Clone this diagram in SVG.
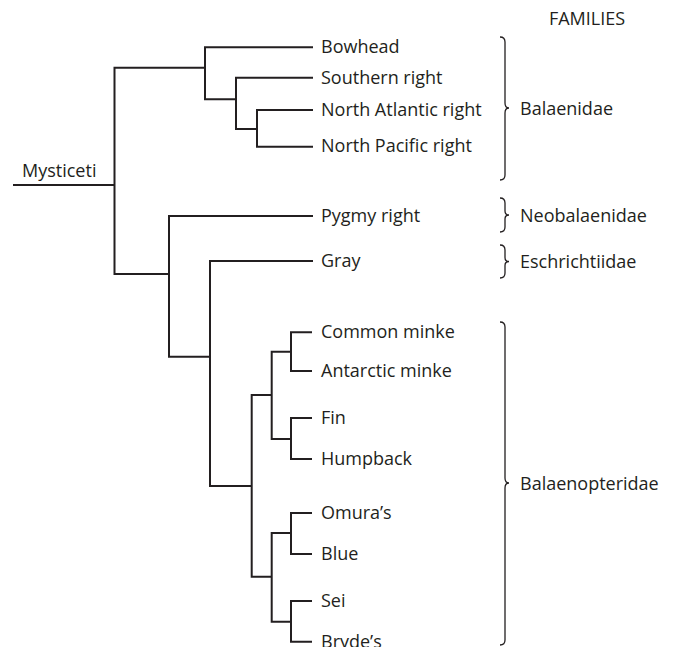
<svg xmlns="http://www.w3.org/2000/svg" width="676" height="647" viewBox="0 0 676 647">
<style>
.t{font-family:"Open Sans","Liberation Sans",sans-serif;font-size:18px;fill:#231f20}
.c{fill:none;stroke:#231f20;stroke-width:2;stroke-linejoin:miter;stroke-linecap:butt}
.b{fill:none;stroke:#231f20;stroke-width:1.3}
</style>
<rect width="676" height="647" fill="#fff"/>
<g id="connectors">
<path class="c" d="M13,185 H114.5"/>
<path class="c" d="M205,67.7 H114.5 V274 H169"/>
<path class="c" d="M313,47.3 H205 V99.3 H236"/>
<path class="c" d="M313,77.7 H236 V129 H257"/>
<path class="c" d="M313,110 H257 V146.7 H313"/>
<path class="c" d="M313,216 H169 V356.7 H210"/>
<path class="c" d="M313,261 H210 V486 H251.7"/>
<path class="c" d="M271.7,395 H251.7 V576.7 H271.7"/>
<path class="c" d="M291,351.7 H271.7 V439 H291"/>
<path class="c" d="M312,332.3 H291 V371 H312"/>
<path class="c" d="M312,418 H291 V459 H312"/>
<path class="c" d="M291,533 H271.7 V621.7 H291"/>
<path class="c" d="M312,513 H291 V554 H312"/>
<path class="c" d="M312,601 H291 V641.7 H312"/>
</g>
<g id="root"><text class="t" x="22" y="176.5">Mysticeti</text></g>
<g id="bowhead"><text class="t" x="321" y="53">Bowhead</text></g>
<g id="southern-right"><text class="t" x="321" y="83.5">Southern right</text></g>
<g id="north-atlantic-right"><text class="t" x="321" y="115.5">North Atlantic right</text></g>
<g id="north-pacific-right"><text class="t" x="321" y="152">North Pacific right</text></g>
<g id="pygmy-right"><text class="t" x="321" y="221.5">Pygmy right</text></g>
<g id="gray"><text class="t" x="321" y="266.5">Gray</text></g>
<g id="common-minke"><text class="t" x="321" y="338">Common minke</text></g>
<g id="antarctic-minke"><text class="t" x="321" y="376.5">Antarctic minke</text></g>
<g id="fin"><text class="t" x="321" y="423.5">Fin</text></g>
<g id="humpback"><text class="t" x="321" y="464.5">Humpback</text></g>
<g id="omuras"><text class="t" x="321" y="518.5">Omura’s</text></g>
<g id="blue"><text class="t" x="321" y="559.5">Blue</text></g>
<g id="sei"><text class="t" x="321" y="607">Sei</text></g>
<g id="brydes"><text class="t" x="321" y="647.5">Bryde’s</text></g>
<g id="families"><text class="t" x="587" y="25" text-anchor="middle">FAMILIES</text></g>
<g id="balaenidae">
<path class="b" d="M500,37 Q505,37 505,42 V103 Q505,108 509,108 Q505,108 505,113 V175 Q505,180 500,180"/>
<text class="t" x="520" y="115">Balaenidae</text>
</g>
<g id="neobalaenidae">
<path class="b" d="M500,198 Q505,198 505,203 V211 Q505,215 509,215 Q505,215 505,219 V227 Q505,232 500,232"/>
<text class="t" x="520" y="221.5">Neobalaenidae</text>
</g>
<g id="eschrichtiidae">
<path class="b" d="M500,245 Q505,245 505,250 V257.5 Q505,261.5 509,261.5 Q505,261.5 505,265.5 V273 Q505,278 500,278"/>
<text class="t" x="520" y="268">Eschrichtiidae</text>
</g>
<g id="balaenopteridae">
<path class="b" d="M500,322 Q505,322 505,327 V478 Q505,483 509,483 Q505,483 505,488 V640 Q505,645 500,645"/>
<text class="t" x="520" y="490">Balaenopteridae</text>
</g>
</svg>
